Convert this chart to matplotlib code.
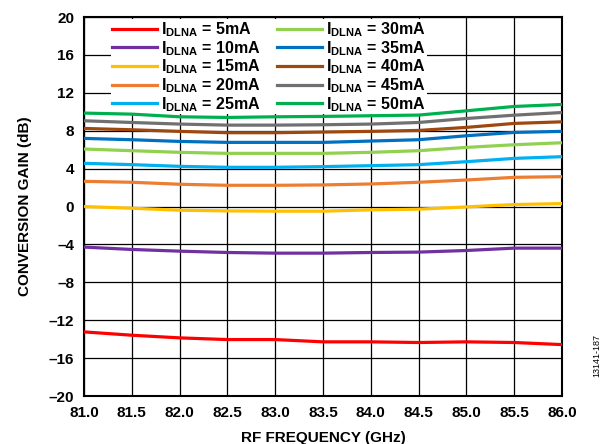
import numpy as np
import matplotlib.pyplot as plt

plt.rcParams['font.family'] = ['Liberation Sans', 'DejaVu Sans']
plt.rcParams['font.weight'] = 'bold'
plt.rcParams['mathtext.fontset'] = 'custom'
plt.rcParams['mathtext.rm'] = 'Liberation Sans:bold'
plt.rcParams['mathtext.bf'] = 'Liberation Sans:bold'
plt.rcParams['mathtext.it'] = 'Liberation Sans:bold'

# RF frequency (GHz)
freq = [81.0, 81.5, 82.0, 82.5, 83.0, 83.5, 84.0, 84.5, 85.0, 85.5, 86.0]

# conversion gain (dB) per DLNA current
gain_5 = [-13.23, -13.58, -13.86, -14.04, -14.04, -14.28, -14.28, -14.35, -14.28, -14.35, -14.57]
gain_10 = [-4.28, -4.53, -4.71, -4.85, -4.92, -4.92, -4.85, -4.81, -4.64, -4.39, -4.39]
gain_15 = [0.0, -0.18, -0.39, -0.46, -0.49, -0.49, -0.35, -0.28, -0.04, 0.21, 0.31]
gain_20 = [2.66, 2.56, 2.35, 2.24, 2.24, 2.28, 2.38, 2.56, 2.80, 3.08, 3.15]
gain_25 = [4.56, 4.42, 4.24, 4.14, 4.14, 4.21, 4.31, 4.42, 4.73, 5.08, 5.26]
gain_30 = [6.07, 5.89, 5.72, 5.61, 5.61, 5.61, 5.72, 5.89, 6.24, 6.52, 6.73]
gain_35 = [7.19, 7.05, 6.87, 6.77, 6.77, 6.77, 6.91, 7.05, 7.47, 7.82, 7.93]
gain_40 = [8.24, 8.10, 7.93, 7.79, 7.79, 7.86, 7.93, 8.03, 8.35, 8.77, 8.94]
gain_45 = [9.05, 8.87, 8.70, 8.59, 8.59, 8.63, 8.70, 8.87, 9.29, 9.64, 9.92]
gain_50 = [9.86, 9.75, 9.47, 9.40, 9.47, 9.51, 9.58, 9.65, 10.10, 10.56, 10.77]

currents = [5, 10, 15, 20, 25, 30, 35, 40, 45, 50]
series = [gain_5, gain_10, gain_15, gain_20, gain_25,
          gain_30, gain_35, gain_40, gain_45, gain_50]
colors = ['#FF0000', '#7030A0', '#FFC000', '#ED7D31', '#00B0F0',
          '#92D050', '#0070C0', '#9E480E', '#707070', '#00B050']

fig = plt.figure(figsize=(6.1, 4.44), dpi=100)
ax = fig.add_axes([0.1377, 0.108, 0.7836, 0.8537])

for cur, g, c in zip(currents, series, colors):
    ax.plot(freq, g, color=c, lw=2.3, zorder=3,
            label=r'$\mathregular{I_{DLNA}}$ = %dmA' % cur)

ax.set_xlim(81.0, 86.0)
ax.set_ylim(-20, 20)
ax.set_xticks(np.arange(81.0, 86.01, 0.5))
ax.set_yticks(np.arange(-20, 21, 4))
ax.set_xticklabels(['%.1f' % v for v in np.arange(81.0, 86.01, 0.5)])
ax.set_yticklabels([('%d' % v).replace('-', '\u2013') for v in range(-20, 21, 4)])
ax.grid(True, color='black', lw=0.9)
ax.set_axisbelow(True)
ax.tick_params(length=0, labelsize=11, pad=7)
for s in ax.spines.values():
    s.set_linewidth(1.5)

ax.set_xlabel('RF FREQUENCY (GHz)', fontsize=11, fontweight='bold', labelpad=8)
ax.set_ylabel('CONVERSION GAIN (dB)', fontsize=11, fontweight='bold', labelpad=12)

leg = ax.legend(loc='upper left', ncol=2, fontsize=11.5, frameon=True,
                facecolor='white', edgecolor='none', framealpha=1,
                handlelength=2.8, handletextpad=0.3, labelspacing=0.0,
                columnspacing=1.0, borderpad=0.05, bbox_to_anchor=(0.04, 1.015),
                fancybox=False)
leg.get_frame().set_linewidth(0)
leg.set_zorder(2)

fig.text(0.978, 0.2, '13141-187', rotation=90, fontsize=6.5, fontweight='normal',
         ha='center', va='center')

fig.savefig('out.png', dpi=100)
